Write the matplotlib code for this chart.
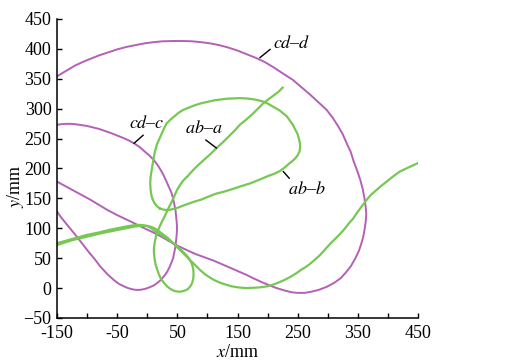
import matplotlib.pyplot as plt

plt.rcParams['font.family'] = ['Liberation Serif', 'DejaVu Serif']
plt.rcParams['mathtext.fontset'] = 'stix'

# trajectories (mm)
cdd_x = [-150, -140, -130, -120, -107, -95, -80, -65, -50, -35, -20, -5, 10, 25, 43, 60, 75,
         90, 105, 120, 135, 150, 165, 180, 195, 210, 225, 242, 256, 270, 284, 298, 308, 317,
         325, 331, 338, 343, 349, 354, 358, 361, 363, 364, 363, 361, 359, 356, 352, 346, 338,
         330, 322, 311, 298, 285, 273, 262, 250, 240, 228, 215, 202, 188, 175, 165, 140, 110,
         80, 54, 44, 27, 10, -11, -29, -50, -67, -95, -128, -150]
cdd_y = [354, 360, 366, 372, 378, 383, 389, 394, 399, 403, 406, 409, 411, 412.5, 413, 413, 412.5,
         411, 409, 406, 402, 397, 391, 385, 378, 369, 359, 348, 336, 324, 311, 298, 285, 271,
         257, 243, 228, 212, 196, 181, 166, 150, 136, 124, 110, 97, 86, 75, 63, 50, 36,
         26, 17, 9, 2, -3, -6, -8, -8, -7, -4, 0, 5, 11, 17, 22, 33, 46,
         57, 69, 74, 84, 93, 103, 112, 122, 131, 148, 166, 178]

cdc_x = [-150, -142, -135, -127, -120, -110, -100, -90, -80, -70, -60, -50, -40, -31, -22, -13,
         -5, 3, 11, 17, 22, 27, 32, 36, 40, 43, 45, 47, 48, 49, 49.5, 49, 48, 47, 45, 43, 40,
         37, 33, 28, 22, 16, 10, 3, -4, -12, -19, -25, -32, -39, -47, -55, -66, -78, -87, -97,
         -107, -117, -126, -135, -143, -150]
cdc_y = [273, 274, 274.5, 274.5, 274, 272.5, 271, 268.5, 266, 262.5, 259, 255, 251, 247, 242, 236,
         229, 222, 214, 206, 198, 189, 178, 169, 160, 150, 140, 130, 120, 110, 100, 90, 80, 70,
         60, 50, 42, 35, 27, 20, 13, 8, 4, 1, -1.5, -3, -3, -2, 0, 3, 7, 13, 23, 36, 48, 60,
         73, 86, 97, 108, 118, 128]

aba_x = [225, 218, 210, 202, 193, 184, 175, 165, 154, 145, 135, 125, 115, 105, 95, 85, 76, 68,
         60, 55, 50, 46, 42, 38, 34, 30, 26, 22, 19, 16, 14, 12.5, 11.5, 11, 11.5, 12.5, 14,
         16.5, 19, 22, 26, 30, 34, 38, 43, 48, 53, 58, 63, 67, 70, 73, 75, 76.5, 77, 76.5,
         75, 72.5, 69.5, 66, 62, 58, 54, 50, 46, 42, 38, 34, 30, 26, 21, 16, 12, 8, 4, 0, -6,
         -12, -18, -26, -35, -47, -60, -80, -100, -125, -150]
aba_y = [335, 328, 322, 316, 309, 300, 291, 282, 273, 263, 253, 243, 234, 224, 215, 206, 197,
         188, 180, 173, 165, 156, 147, 139, 131, 122, 114, 106, 99, 92, 84, 77, 70, 63, 55,
         47, 39, 31, 24, 17, 11, 6, 2, -1, -4, -5.5, -6, -5.5, -4, -2, 1, 5, 10, 16, 24, 31,
         38, 44, 49, 54, 58, 62, 66, 70, 73, 76, 79, 82, 84.5, 87, 90, 93, 96, 99, 101.5, 103.5,
         105, 105.5, 105.5, 104.5, 103, 100.5, 98, 93, 89, 82, 75]

abb_x = [21, 16, 12, 9, 7, 5.5, 5, 5.5, 7, 8.5, 10, 12.5, 16, 20, 24, 28, 32, 38, 45, 52, 60, 70,
         80, 90, 99, 110, 120, 132, 143, 154, 165, 173, 180, 188, 195, 201, 206, 213, 220, 226,
         232, 237, 242, 246, 250, 252.5, 254, 254, 253, 250, 246, 242, 237, 229, 221, 211, 200,
         186, 171, 155, 140, 127, 115, 102, 90, 80, 71, 60, 50, 44, 38, 33, 28, 24, 21]
abb_y = [133, 137, 142, 148, 155, 165, 175, 185, 195, 204, 214, 227, 240, 249, 258, 267, 275, 281,
         287, 293, 298, 302, 306, 309, 311, 313.5, 315, 316.5, 317, 317.5, 317, 316, 315, 313,
         311, 308, 305, 301, 297, 292, 287, 280, 273, 265, 257, 248, 240, 234, 228, 222, 217,
         213, 209, 202, 196, 191, 187, 181, 175, 170, 165, 161, 158, 153, 148, 145, 142, 138,
         134, 132.5, 131, 130.5, 131, 132, 133]

tail_x = [-150, -125, -100, -75, -50, -35, -20, -10, 0, 6, 12, 17, 22, 28, 35, 44, 54, 62, 70,
          79, 88, 96, 105, 113, 121, 130, 140, 152, 165, 175, 185, 193, 200, 210, 220, 230, 240,
          248, 255, 263, 270, 278, 287, 295, 304, 312, 320, 328, 335, 342, 348, 356, 365, 372,
          380, 389, 398, 409, 420, 435, 450]
tail_y = [72, 80, 86, 92, 97, 100, 103, 104, 104, 102.5, 100, 97, 93, 88.5, 83, 74, 64, 56, 48,
          39, 30, 23, 17, 12.5, 9, 6, 3, 1, 0, 0.5, 1, 2, 3, 6, 10, 14.5, 20, 25, 30, 35, 40,
          47, 55, 64, 74, 82, 90, 99, 108, 116, 125, 136, 148, 156, 163, 171, 178, 187, 195,
          202, 209]

purple = '#b460b6'
green = '#76c853'

fig = plt.figure(figsize=(5.18, 3.63), dpi=100)
ax = fig.add_axes([0.110, 0.124, 0.697, 0.824])

ax.plot(cdd_x, cdd_y, color=purple, lw=1.4)
ax.plot(cdc_x, cdc_y, color=purple, lw=1.4)
ax.plot(aba_x, aba_y, color=green, lw=1.6)
ax.plot(abb_x, abb_y, color=green, lw=1.6)
ax.plot(tail_x, tail_y, color=green, lw=1.6)

ax.set_xlim(-150, 450)
ax.set_ylim(-50, 450)
ax.set_xticks(range(-150, 451, 50))
ax.set_xticklabels([str(v) if (v + 150) % 100 == 0 else '' for v in range(-150, 451, 50)])
ax.set_yticks(range(-50, 451, 50))

for s in ['top', 'right']:
    ax.spines[s].set_visible(False)
for s in ['left', 'bottom']:
    ax.spines[s].set_linewidth(1.1)
ax.tick_params(direction='in', length=3.5, width=1.0, labelsize=13)
ax.tick_params(axis='x', pad=5)
ax.tick_params(axis='y', pad=4)

ax.set_xlabel('$x$/mm', fontsize=13, va='center')
ax.set_ylabel('$y$/mm', fontsize=13, va='center')
ax.xaxis.set_label_coords(0.5, -0.114)
ax.yaxis.set_label_coords(-0.115, 0.44)

lead = dict(arrowstyle='-', color='black', lw=1.0, shrinkA=0, shrinkB=0)
ax.annotate('$cd$\u2013$d$', xy=(187, 385), xytext=(209, 401), fontsize=13,
            ha='left', va='baseline', arrowprops=dict(lead, relpos=(0, 0.3)))
ax.annotate('$cd$\u2013$c$', xy=(-22, 242), xytext=(-31, 267), fontsize=13,
            ha='left', va='baseline', arrowprops=dict(lead, relpos=(0.5, 0)))
ax.annotate('$ab$\u2013$a$', xy=(115, 234), xytext=(63, 259), fontsize=13,
            ha='left', va='baseline', arrowprops=dict(lead, relpos=(0.45, 0)))
ax.annotate('$ab$\u2013$b$', xy=(226, 195), xytext=(234, 157), fontsize=13,
            ha='left', va='baseline', arrowprops=dict(lead, relpos=(0.1, 1)))

fig.savefig('out.png', dpi=100, facecolor='white')
